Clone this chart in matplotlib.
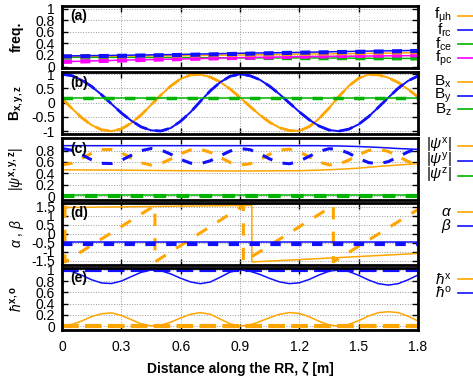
import matplotlib
matplotlib.use('Agg')
import matplotlib.pyplot as plt
from matplotlib.lines import Line2D
from matplotlib.ticker import FormatStrFormatter

plt.rcParams['font.family'] = ['Liberation Sans', 'DejaVu Sans']
plt.rcParams['mathtext.fontset'] = 'custom'
plt.rcParams['mathtext.rm'] = 'Liberation Sans'
plt.rcParams['mathtext.it'] = 'Liberation Sans:italic'
plt.rcParams['mathtext.bf'] = 'Liberation Sans:bold'

#Colours (gnuplot-like)
cOr, cBl, cGr, cMg = '#FFA500', '#1010FF', '#00B400', '#FF00FF'

#Common grid along the RR
zeta = [0.00, 0.05, 0.10, 0.15, 0.20, 0.25, 0.30, 0.35, 0.40, 0.45, 0.50, 0.55,
        0.60, 0.65, 0.70, 0.75, 0.80, 0.85, 0.90, 0.95, 1.00, 1.05, 1.10, 1.15,
        1.20, 1.25, 1.30, 1.35, 1.40, 1.45, 1.50, 1.55, 1.60, 1.65, 1.70, 1.75, 1.80]
zetaCoarse = [0.0, 0.3, 0.6, 0.9, 1.2, 1.5, 1.8]

#(a) frequencies
f_uh = [0.175, 0.18, 0.19, 0.20, 0.215, 0.225, 0.24]
f_uh_d = [0.17, 0.18, 0.19, 0.205, 0.22, 0.235, 0.25]
f_rc = [0.183, 0.195, 0.21, 0.23, 0.245, 0.265, 0.28]
f_rc_d = [0.175, 0.185, 0.20, 0.22, 0.24, 0.255, 0.27]
f_ce = [0.16, 0.16, 0.155, 0.15, 0.15, 0.145, 0.14]
f_ce_d = [0.155, 0.155, 0.15, 0.15, 0.145, 0.145, 0.14]
f_pc = [0.083, 0.11, 0.13, 0.155, 0.17, 0.18, 0.19]
f_pc_d = [0.08, 0.105, 0.13, 0.15, 0.17, 0.185, 0.195]

#(b) magnetic field components
Bx = [0.15, -0.20, -0.53, -0.79, -0.95, -1.0, -0.92, -0.72, -0.43, -0.08, 0.27, 0.59,
      0.84, 0.98, 0.99, 0.90, 0.73, 0.48, 0.19, -0.13, -0.43, -0.69, -0.88, -0.98,
      -0.99, -0.84, -0.56, -0.19, 0.22, 0.59, 0.86, 0.99, 0.98, 0.88, 0.71, 0.47, 0.20]
By = [1.0, 0.95, 0.80, 0.57, 0.28, -0.04, -0.36, -0.63, -0.85, -0.97, -0.995, -0.89,
      -0.65, -0.33, 0.05, 0.42, 0.72, 0.93, 1.0, 0.95, 0.81, 0.58, 0.30, -0.01,
      -0.32, -0.60, -0.82, -0.96, -1.0, -0.93, -0.76, -0.49, -0.16, 0.18, 0.51, 0.77, 0.94]
Bz = [0.16, 0.16, 0.16, 0.16, 0.16, 0.16, 0.16]

#(c) polarisation moduli
zetaPsi = [0.0, 0.3, 0.6, 0.9, 1.2, 1.3, 1.4, 1.5, 1.6, 1.7, 1.8]
psi_x = [0.46, 0.455, 0.445, 0.44, 0.445, 0.455, 0.47, 0.49, 0.52, 0.545, 0.57]
psi_y = [0.885, 0.885, 0.885, 0.885, 0.885, 0.885, 0.88, 0.87, 0.855, 0.835, 0.82]
psi_z = [0.01, 0.01, 0.01, 0.01, 0.01, 0.01, 0.01, 0.01, 0.01, 0.01, 0.01]
psi_z_d = [0.0, 0.0, 0.0, 0.0, 0.0, 0.0, 0.0, 0.0, 0.0, 0.0, 0.0]
psi_x_d = [0.545, 0.577, 0.659, 0.752, 0.815, 0.818, 0.760, 0.668, 0.584, 0.545, 0.571, 0.649,
           0.744, 0.811, 0.821, 0.768, 0.678, 0.591, 0.546, 0.566, 0.640, 0.734, 0.807, 0.823,
           0.776, 0.688, 0.598, 0.548, 0.561, 0.631, 0.725, 0.801, 0.824, 0.784, 0.697, 0.606, 0.550]
psi_y_d = [0.835, 0.804, 0.726, 0.635, 0.575, 0.571, 0.628, 0.716, 0.797, 0.835, 0.810, 0.735,
           0.644, 0.578, 0.569, 0.620, 0.707, 0.791, 0.834, 0.815, 0.744, 0.652, 0.583, 0.567,
           0.612, 0.698, 0.784, 0.832, 0.820, 0.752, 0.661, 0.588, 0.566, 0.605, 0.688, 0.777, 0.830]

#(d) angles
zetaAlpha = [0.0, 0.3, 0.6, 0.9, 0.96, 0.96, 1.2, 1.5, 1.8]
alpha = [1.45, 1.49, 1.53, 1.56, 1.57, -1.57, -1.44, -1.27, -1.10]
zetaAlphaD = [0.015, 0.015, 0.47, 0.47, 0.917, 0.917, 1.372, 1.372, 1.8]
alpha_d = [1.57, -1.57, 1.57, -1.57, 1.57, -1.57, 1.57, -1.57, 1.35]
zetaEnds = [0.0, 1.8]
beta = [-0.45, -0.45]
beta_d = [-0.55, -0.55]

#(e) h coefficients
h_o = [1.0, 0.973, 0.905, 0.825, 0.768, 0.758, 0.802, 0.881, 0.958, 0.998, 0.986, 0.929,
       0.852, 0.786, 0.755, 0.785, 0.871, 0.962, 1.0, 0.978, 0.921, 0.849, 0.787, 0.756,
       0.771, 0.831, 0.911, 0.977, 1.0, 0.972, 0.904, 0.821, 0.755, 0.73, 0.756, 0.825, 0.910]
h_x = [0.01, 0.03, 0.09, 0.17, 0.22, 0.235, 0.19, 0.115, 0.04, 0.005, 0.015, 0.07,
       0.145, 0.21, 0.24, 0.21, 0.125, 0.04, 0.0, 0.02, 0.08, 0.15, 0.21, 0.24,
       0.225, 0.165, 0.085, 0.02, 0.0, 0.03, 0.095, 0.18, 0.24, 0.255, 0.24, 0.175, 0.09]
h_o_d = [1.0, 1.0]
h_x_d = [0.0, 0.0]

W, H = 473, 378
fig = plt.figure(figsize=(W / 100, H / 100), dpi=100)

def box(top, bottom):
    return [62 / W, 1 - bottom / H, 356 / W, (bottom - top) / H]

panelRows = [(5.7, 68.0), (72.0, 134.0), (138.0, 200.0), (202.7, 265.0), (267.7, 330.0)]
yLimits = [(-0.026, 1.057), (-1.10, 1.08), (-0.07, 1.02), (-1.74, 1.72), (-0.07, 1.04)]
yTicks = [[0, 0.2, 0.4, 0.6, 0.8, 1], [-1, -0.5, 0, 0.5, 1], [0, 0.2, 0.4, 0.6, 0.8],
          [-1.5, -1, -0.5, 0, 0.5, 1, 1.5], [0, 0.2, 0.4, 0.6, 0.8, 1]]
yLabels = ['freq.', r'$\mathbf{B_{x,y,z}}$', r'$|\psi^{\mathbf{x,y,z}}|$', r'$\alpha$ , $\beta$',
           r'$\hbar^{\mathbf{x,o}}$']
tags = ['(a)', '(b)', '(c)', '(d)', '(e)']

axes = []
for i, (top, bottom) in enumerate(panelRows):
    ax = fig.add_axes(box(top, bottom))
    ax.set_xlim(0, 1.8)
    ax.set_ylim(*yLimits[i])
    ax.set_xticks(zetaCoarse)
    ax.set_yticks(yTicks[i])
    ax.yaxis.set_major_formatter(FormatStrFormatter('%g'))
    ax.xaxis.set_major_formatter(FormatStrFormatter('%g'))
    ax.tick_params(direction='in', length=4, width=1, top=True, right=True,
                   labelsize=10, pad=5)
    ax.tick_params(axis='x', labelbottom=(i == 4), pad=7)
    ax.grid(True, color='#999999', linestyle=':', linewidth=0.7)
    for s in ax.spines.values():
        s.set_linewidth(2.0)
    ax.set_ylabel(yLabels[i], fontsize=10, fontweight='bold' if i == 0 else 'normal',
                  va='center')
    ax.yaxis.set_label_coords(-(62 - 17) / 356, 0.5)
    ax.text(0.022, 1 - 10.5 / (bottom - top), tags[i], transform=ax.transAxes,
            fontsize=10, fontweight='bold', ha='left', va='center')
    axes.append(ax)

axA, axB, axC, axD, axE = axes
thin = 1.1
dA = (2.4, 2.0)

#(a)
axA.plot(zetaCoarse, f_ce, color=cGr, lw=thin)
axA.plot(zetaCoarse, f_ce_d, color=cGr, lw=3, dashes=dA)
axA.plot(zetaCoarse, f_pc, color=cMg, lw=thin)
axA.plot(zetaCoarse, f_pc_d, color=cMg, lw=3, dashes=dA)
axA.plot(zetaCoarse, f_uh, color=cOr, lw=thin)
axA.plot(zetaCoarse, f_uh_d, color=cOr, lw=3, dashes=dA)
axA.plot(zetaCoarse, f_rc, color=cBl, lw=thin)
axA.plot(zetaCoarse, f_rc_d, color=cBl, lw=3, dashes=dA)

#(b)
axB.plot(zeta, Bx, color=cOr, lw=1.4)
axB.plot(zeta, Bx, color=cOr, lw=2.0, dashes=(5, 3))
axB.plot(zeta, By, color=cBl, lw=1.4)
axB.plot(zeta, By, color=cBl, lw=2.0, dashes=(5, 3))
axB.plot(zetaCoarse, Bz, color=cGr, lw=thin)
axB.plot(zetaCoarse, Bz, color=cGr, lw=2.5, dashes=(3, 3))

#(c)
axC.plot(zetaPsi, psi_x, color=cOr, lw=thin)
axC.plot(zetaPsi, psi_y, color=cBl, lw=thin)
axC.plot(zetaPsi, psi_z, color=cGr, lw=thin)
axC.plot(zeta, psi_x_d, color=cOr, lw=2.2, dashes=(3.5, 3.5))
axC.plot(zeta, psi_y_d, color=cBl, lw=2.2, dashes=(3.5, 3.5))
axC.plot(zetaPsi, psi_z_d, color=cGr, lw=3, dashes=(3, 2.5))

#(d)
axD.plot(zetaAlpha, alpha, color=cOr, lw=thin)
axD.plot(zetaAlphaD, alpha_d, color=cOr, lw=2.2, dashes=(4, 4))
axD.plot(zetaEnds, beta, color=cBl, lw=thin)
axD.plot(zetaEnds, beta_d, color=cBl, lw=3, dashes=(2.5, 2.5))

#(e)
axE.plot(zeta, h_x, color=cOr, lw=thin)
axE.plot(zetaEnds, h_x_d, color=cOr, lw=3, dashes=(4, 1.5))
axE.plot(zeta, h_o, color=cBl, lw=thin)
axE.plot(zetaEnds, h_o_d, color=cBl, lw=3, dashes=(4, 1.5))
axE.set_xlabel('Distance along the RR, ζ [m]', fontsize=10, fontweight='bold', labelpad=6)

#Legends (gnuplot style keys outside on the right)
keys = [
    (r'$\mathrm{f_{\mu h}}$', cOr, 15.7), (r'$\mathrm{f_{rc}}$', cBl, 30.0),
    (r'$\mathrm{f_{ce}}$', cGr, 44.0), (r'$\mathrm{f_{pc}}$', cMg, 58.3),
    (r'$\mathrm{B_x}$', cOr, 81.7), (r'$\mathrm{B_y}$', cBl, 95.7), (r'$\mathrm{B_z}$', cGr, 109.3),
    (r'$|\psi^{\mathrm{x}}|$', cOr, 145.7), (r'$|\psi^{\mathrm{y}}|$', cBl, 160.7),
    (r'$|\psi^{\mathrm{z}}|$', cGr, 175.7),
    (r'$\alpha$', cOr, 212.0), (r'$\beta$', cBl, 226.3),
    (r'$\hbar^{\mathrm{x}}$', cOr, 279.3), (r'$\hbar^{\mathrm{o}}$', cBl, 292.7),
]
for label, col, ypx in keys:
    yf = 1 - ypx / H
    fig.text(452 / W, yf, label, ha='right', va='center', fontsize=11)
    fig.add_artist(Line2D([458 / W, 1.02], [yf, yf], transform=fig.transFigure,
                          color=col, lw=1.2))

fig.savefig('out.png', dpi=100)
